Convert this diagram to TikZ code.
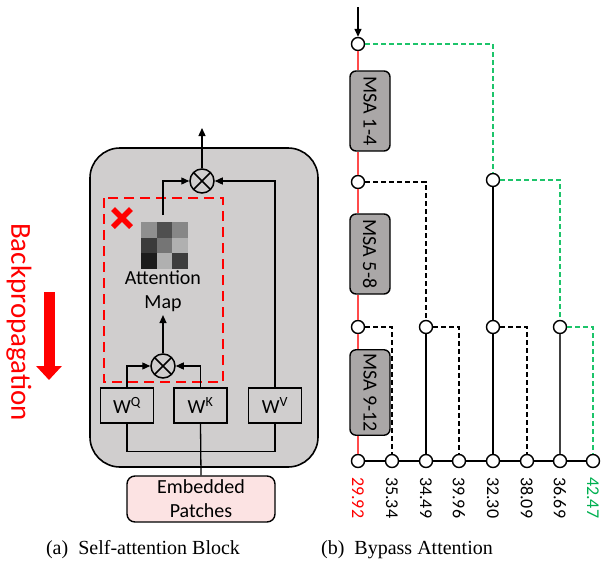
\documentclass[tikz,border=0pt]{standalone}
\usepackage{fontspec}
\setmainfont{Carlito}
\newfontfamily\capfont{Liberation Serif}
\usetikzlibrary{arrows.meta}
\usetikzlibrary{calc}
\tikzset{>={Triangle[length=8pt,width=7pt]}}

\definecolor{blockgray}{HTML}{D0CECE}
\definecolor{msagray}{HTML}{AAA7A7}
\definecolor{patchpink}{HTML}{FCE3E3}
\definecolor{linered}{HTML}{FF4B4B}
\definecolor{accgreen}{HTML}{00B050}
\definecolor{dashgreen}{HTML}{1DC46A}

\tikzset{
  mul/.style={circle, draw, line width=1.5pt, minimum size=24pt, inner sep=0pt,
    path picture={\draw[line width=1.5pt] (path picture bounding box.north west) -- (path picture bounding box.south east)
      (path picture bounding box.north east) -- (path picture bounding box.south west);}},
  wbox/.style={draw, line width=1.3pt, minimum width=53pt, minimum height=35pt, inner sep=0pt, font=\fontsize{20}{20}\selectfont},
  dot/.style={circle, draw, line width=1.4pt, fill=white, minimum size=13pt, inner sep=0pt},
  msa/.style={draw, line width=1.4pt, fill=msagray, rounded corners=6pt, rotate=-90, minimum width=80pt, minimum height=40pt, font=\fontsize{20}{20}\selectfont},
  val/.style={rotate=-90, anchor=west, font=\fontsize{18}{18}\selectfont, inner sep=0pt},
  bdash/.style={line width=1.3pt, dash pattern=on 5pt off 3pt},
  gdash/.style={line width=1.3pt, dash pattern=on 5pt off 3pt, dashgreen},
}

\begin{document}
\begin{tikzpicture}[x=1pt,y=-1pt]
\useasboundingbox (0,0) rectangle (603,570);

% (a) self-attention block
\draw[line width=1.6pt, fill=blockgray, rounded corners=30pt] (90,148) rectangle (318,467);
\draw[red, line width=2.2pt, dash pattern=on 10pt off 6pt] (104,198) rectangle (223,382);

% attention map
\foreach \shade [count=\i from 0] in {44,69,47, 77,54,31, 89,31,76} {
  \pgfmathtruncatemacro{\col}{mod(\i,3)}
  \pgfmathtruncatemacro{\row}{div(\i,3)}
  \fill[black!\shade] ({141+15.6*\col},{222+15.6*\row}) rectangle ++(15.6,15.6);
}
\coordinate (gridtop) at (163,215);
\node[font=\fontsize{20}{24}\selectfont, align=center] (amap) at (163,291) {Attention\\Map};

% red cross
\draw[red, line width=5.5pt] (113,209) -- (131,227) (131,209) -- (113,227);

\node[mul] (m1) at (163,366) {};
\node[mul] (m2) at (202,181) {};
\coordinate (out) at (202,128);

\node[wbox] (wq) at (127,405.5) {W\textsuperscript{Q}};
\node[wbox] (wk) at (200.5,405.5) {W\textsuperscript{K}};
\node[wbox] (wv) at (275,405.5) {W\textsuperscript{V}};

\node[draw, line width=1.4pt, fill=patchpink, rounded corners=8pt, minimum width=148pt, minimum height=46pt,
  align=center, font=\fontsize{20}{24}\selectfont] (emb) at (201,499) {Embedded\\Patches};

\draw[line width=1.3pt, ->] (wq.north) |- (m1.west);
\draw[line width=1.3pt, ->] (wk.north) |- (m1.east);
\draw[line width=1.3pt, ->] (m1.north) -- (amap.south);
\draw[line width=1.3pt, ->] (gridtop) |- (m2.west);
\draw[line width=1.3pt, ->] (wv.north) |- (m2.east);
\draw[line width=1.3pt, ->] (m2.north) -- (out);
\draw[line width=1.3pt] (wq.south) -- ++(0,28) -| (wv.south);
\draw[line width=1.3pt] (wk.south) -- (emb.north);

\node[red, rotate=-90, font=\fontsize{29}{29}\selectfont] (bp) at (19,322) {Backpropagation};
\draw[red, line width=11pt, -{Triangle[width=25pt,length=14pt]}] (49,292) -- (49,380);

% (b) bypass attention
\node[dot] (a1) at (358,44) {};
\node[dot] (a2) at (358,182) {};
\node[dot] (a3) at (358,327) {};
\node[msa] (s1) at (370,111) {MSA 1-4};
\node[msa] (s2) at (370,254) {MSA 5-8};
\node[msa] (s3) at (370,392.5) {MSA 9-12};
\node[dot] (g1) at (493,180) {};
\node[dot] (k1) at (426,327) {};
\node[dot] (k2) at (493,327) {};
\node[dot] (k3) at (560,327) {};
\foreach \x [count=\i] in {358,392,426,459,493,527,560,593}
  \node[dot] (c\i) at (\x,461) {};
\coordinate (in) at (358,7);

\draw[line width=1.4pt, ->] (in) -- (a1.north);
\draw[linered, line width=1.4pt] (a1) -- (a1 |- s1.west) (a1 |- s1.east) -- (a2)
  (a2) -- (a2 |- s2.west) (a2 |- s2.east) -- (a3)
  (a3) -- (a3 |- s3.west) (a3 |- s3.east) -- (c1);
\foreach \i [evaluate=\i as \j using int(\i+1)] in {1,...,7}
  \draw[line width=1.4pt] (c\i) -- (c\j);

\draw[gdash] (a1.east) -| (g1.north);
\draw[gdash] (g1.east) -| (k3.north);
\draw[gdash] (k3.east) -| (c8.north);
\draw[bdash] (a2.east) -| (k1.north);
\draw[bdash] (a3.east) -| (c2.north);
\draw[bdash] (k1.east) -| (c4.north);
\draw[bdash] (k2.east) -| (c6.north);
\draw[line width=1.4pt] (k1) -- (c3);
\draw[line width=1.4pt] (g1) -- (k2) (k2) -- (c5);
\draw[line width=1.4pt, black!75] (k3) -- (c7);

\foreach \v/\c [count=\i] in {29.92/red, 35.34/black, 34.49/black, 39.96/black, 32.30/black, 38.09/black, 36.69/black, 42.47/accgreen}
  \node[val, text=\c] (l\i) at ($(c\i)+(0,16)$) {\v};

% captions
\node[font=\capfont\fontsize{20}{20}\selectfont] (capa) at (143,550) {(a)\ \ Self-attention Block};
\node[font=\capfont\fontsize{20}{20}\selectfont] (capb) at (407,550) {(b)\ \ Bypass Attention};
\end{tikzpicture}
\end{document}
